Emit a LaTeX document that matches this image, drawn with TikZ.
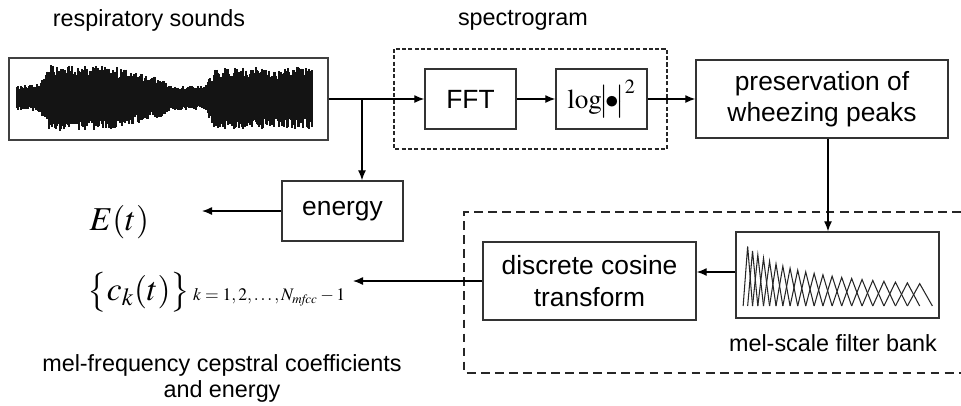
\documentclass[tikz,border=0pt]{standalone}
\usepackage{mathptmx}
\usepackage[no-math]{fontspec}
\setmainfont{Liberation Sans}
\usetikzlibrary{positioning, arrows.meta, calc}

\begin{document}
\begin{tikzpicture}[
    >={Latex[length=2mm,width=1.6mm]},
    every path/.style={line width=0.75pt},
    blockbox/.style={rectangle, draw=black!80, line width=0.8pt, align=center, font=\fontsize{15}{18}\selectfont},
    captiontext/.style={align=center, font=\fontsize{13.3}{15.3}\selectfont},
    smalldash/.style={draw=black!85, line width=0.7pt, dash pattern=on 2.3pt off 1.3pt},
    largedash/.style={draw=black!85, line width=0.7pt, dash pattern=on 5pt off 3pt},
    flow/.style={->, black}
]
\useasboundingbox (0,0) rectangle (19.22,-8.1);

% Top captions
\node[captiontext] (soundlbl) at (2.98,-0.4) {respiratory sounds};
\node[captiontext] (speclbl) at (10.46,-0.4) {spectrogram};

% Sound record
\node[rectangle, draw=black!75, line width=1.1pt, minimum width=6.38cm, minimum height=1.64cm] (wave) at (3.37,-1.98) {};
\pgfmathsetseed{4217}
\begin{scope}[x=0.02cm, y=0.02cm, shift={(0cm,-1.96cm)}]
  \foreach \u in {17,...,312}{
    % piecewise linear envelope of the breath sound
    \pgfmathsetmacro{\env}{\u<40 ? 12+0.1*(\u-17) : (\u<50 ? 14+1.9*(\u-40) : (\u<110 ? 33 : (\u<160 ? 33-0.26*(\u-110) : (\u<170 ? 20-0.8*(\u-160) : (\u<205 ? 12 : (\u<215 ? 12+1.9*(\u-205) : 31))))))}
    \pgfmathsetmacro{\up}{\env*(0.62+0.38*rnd)}
    \pgfmathsetmacro{\dn}{\env*(0.62+0.38*rnd)}
    \draw[line width=0.03cm, black!92] (\u,\up) -- (\u,-\dn);
  }
\end{scope}

% Spectrogram blocks
\node[blockbox, minimum width=1.82cm, minimum height=1.2cm] (fft) at (9.41,-1.98) {FFT};
\node[blockbox, minimum width=1.82cm, minimum height=1.2cm, inner xsep=2pt, font=\fontsize{15.5}{18}\selectfont] (logsq) at (12.03,-1.98) {$\log\!\bigl|\!\bullet\!\bigr|^{2}$};
\draw[smalldash] (7.88,-0.98) rectangle (13.34,-2.98);

% Peak preservation
\node[blockbox, minimum width=5.04cm, minimum height=1.56cm] (peaks) at (16.44,-1.98) {preservation of\\wheezing peaks};

% Energy branch
\coordinate (split) at (7.24,-1.98);
\node[blockbox, minimum width=2.42cm, minimum height=1.2cm] (energy) at (6.85,-4.22) {energy};
\coordinate (eout) at (4.04,-4.22);
\node[anchor=west, font=\fontsize{19}{22}\selectfont] (et) at (1.66,-4.44) {$E(t)$};

% Cepstral stage
\node[blockbox, minimum width=4.06cm, minimum height=1.72cm] (bank) at (16.75,-5.5) {};
\begin{scope}[x=0.02cm, y=0.02cm, shift={(0cm,-6.12cm)}]
  \foreach \j in {1,...,21}{
    \pgfmathsetmacro{\lft}{743+4.5*(\j-1)+0.3905*(\j-1)*(\j-2)/2}
    \pgfmathsetmacro{\pk}{743+4.5*\j+0.3905*\j*(\j-1)/2}
    \pgfmathsetmacro{\rgt}{743+4.5*(\j+1)+0.3905*(\j+1)*\j/2}
    \pgfmathsetmacro{\hgt}{560/(\rgt-\lft)}
    \draw[line width=0.6pt, black!85] (\lft,0) -- (\pk,\hgt) -- (\rgt,0);
  }
\end{scope}
\node[captiontext] (banklbl) at (16.66,-6.86) {mel-scale filter bank};
\node[blockbox, minimum width=4.26cm, minimum height=1.56cm] (dct) at (11.79,-5.62) {discrete cosine\\transform};
\draw[largedash] (19.22,-4.24) -- (9.28,-4.24) -- (9.28,-7.46) -- (19.22,-7.46);
\coordinate (cout) at (7.06,-5.62);
\node[anchor=west] (ck) at (1.62,-5.84) {{\fontsize{19}{22}\selectfont$\bigl\{c_{k}(t)\bigr\}$}\,{\fontsize{10}{12}\selectfont$k=1,2,\ldots,N_{\mathit{mfcc}}-1$}};

% Bottom caption
\node[captiontext] (mfcclbl) at (4.44,-7.57) {mel-frequency cepstral coefficients\\and energy};

% Arrows
\draw[flow] (wave.east) -- (fft.west);
\draw[flow] (split) -- (split |- energy.north);
\draw[flow] (fft) -- (logsq);
\draw[flow] (logsq) -- (peaks);
\draw[flow] ([xshift=0.12cm]peaks.south) -- ([xshift=0.12cm]peaks.south |- bank.north);
\draw[flow] ([yshift=0.06cm]bank.west) -- ([yshift=0.06cm]bank.west -| dct.east);
\draw[flow] (dct.west) -- (cout);
\draw[flow] (energy.west) -- (eout);

\end{tikzpicture}
\end{document}
